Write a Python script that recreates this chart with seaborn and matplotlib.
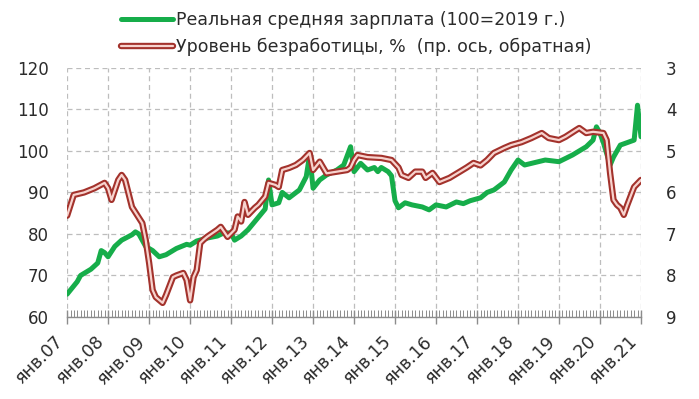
import matplotlib
matplotlib.use("Agg")
import matplotlib.pyplot as plt
import matplotlib.dates as mdates
import matplotlib.patheffects as pe
import pandas as pd
import seaborn as sns

# real average wage, 100 = 2019
wage_dates = ["2007-01", "2007-04", "2007-05", "2007-08", "2007-10", "2007-11", "2007-12",
              "2008-01", "2008-03", "2008-05", "2008-08", "2008-09", "2008-10", "2008-12",
              "2009-02", "2009-04", "2009-06", "2009-09", "2009-12",
              "2010-01", "2010-03", "2010-06", "2010-09", "2010-11",
              "2011-01", "2011-02", "2011-04", "2011-06", "2011-09", "2011-11", "2011-12",
              "2012-01", "2012-03", "2012-04", "2012-06", "2012-09", "2012-11", "2012-12",
              "2013-01", "2013-03", "2013-05", "2013-08", "2013-10", "2013-12",
              "2014-01", "2014-03", "2014-05", "2014-07", "2014-08", "2014-09", "2014-11", "2014-12",
              "2015-01", "2015-02", "2015-04", "2015-06", "2015-09", "2015-11",
              "2016-01", "2016-04", "2016-07", "2016-09", "2016-11",
              "2017-02", "2017-04", "2017-06", "2017-09", "2017-11",
              "2018-01", "2018-03", "2018-06", "2018-09",
              "2019-01", "2019-05", "2019-09", "2019-11", "2019-12",
              "2020-01", "2020-02", "2020-04", "2020-05", "2020-07", "2020-09", "2020-11", "2020-12",
              "2021-01"]
wage = [65.5, 68.5, 70.0, 71.5, 73.0, 76.0, 75.5,
        74.5, 77.0, 78.5, 79.8, 80.5, 80.0, 77.0,
        76.0, 74.5, 75.0, 76.5, 77.5,
        77.3, 78.3, 79.0, 79.5, 80.3,
        80.2, 78.5, 79.5, 81.0, 84.0, 86.0, 93.0,
        87.0, 87.5, 90.0, 88.7, 90.6, 93.8, 99.0,
        91.0, 93.0, 94.2, 95.4, 96.6, 101.0,
        95.0, 97.0, 95.4, 96.0, 95.0, 96.0, 95.0, 94.0,
        88.0, 86.3, 87.5, 87.0, 86.5, 85.8,
        87.0, 86.5, 87.7, 87.3, 88.0,
        88.7, 90.0, 90.6, 92.5, 95.4,
        97.8, 96.6, 97.2, 97.8,
        97.4, 99.0, 101.0, 102.6, 105.8,
        104.3, 102.0, 96.6, 98.5, 101.4, 102.0, 102.6, 111.0,
        103.4]

# unemployment rate, %
unemp_dates = ["2007-01", "2007-03", "2007-06", "2007-09", "2007-12",
               "2008-01", "2008-02", "2008-04", "2008-05", "2008-06", "2008-08", "2008-11", "2008-12",
               "2009-01", "2009-02", "2009-03", "2009-05", "2009-06", "2009-08", "2009-09", "2009-11", "2009-12",
               "2010-01", "2010-02", "2010-03", "2010-04", "2010-05", "2010-06", "2010-09", "2010-10", "2010-12",
               "2011-02", "2011-03", "2011-04", "2011-05", "2011-06", "2011-08", "2011-09", "2011-11", "2011-12",
               "2012-02", "2012-03", "2012-04", "2012-06", "2012-08", "2012-10", "2012-12",
               "2013-01", "2013-03", "2013-05", "2013-08", "2013-11", "2013-12",
               "2014-01", "2014-02", "2014-05", "2014-09", "2014-12",
               "2015-02", "2015-03", "2015-05", "2015-07", "2015-09", "2015-10", "2015-12",
               "2016-02", "2016-05", "2016-08", "2016-10", "2016-12",
               "2017-02", "2017-04", "2017-06", "2017-09", "2017-11",
               "2018-02", "2018-05", "2018-08", "2018-10",
               "2019-01", "2019-03", "2019-06", "2019-07", "2019-09", "2019-11",
               "2020-02", "2020-03", "2020-04", "2020-05", "2020-06", "2020-07", "2020-08", "2020-09", "2020-11",
               "2021-01"]
unemp = [6.56, 6.06, 6.00, 5.90, 5.77,
         5.90, 6.18, 5.70, 5.58, 5.70, 6.35, 6.74, 7.14,
         7.70, 8.35, 8.52, 8.66, 8.47, 8.04, 8.00, 7.94, 8.11,
         8.60, 8.04, 7.87, 7.22, 7.14, 7.07, 6.90, 6.83, 7.07,
         6.90, 6.58, 6.70, 6.23, 6.54, 6.37, 6.30, 6.10, 5.77,
         5.82, 5.87, 5.46, 5.41, 5.34, 5.22, 5.05,
         5.46, 5.26, 5.54, 5.50, 5.46, 5.40,
         5.22, 5.10, 5.15, 5.17, 5.22,
         5.40, 5.58, 5.65, 5.50, 5.50, 5.65, 5.53,
         5.75, 5.65, 5.50, 5.40, 5.29,
         5.35, 5.22, 5.05, 4.93, 4.86,
         4.79, 4.69, 4.57, 4.69,
         4.74, 4.66, 4.50, 4.45, 4.57, 4.54,
         4.57, 4.74, 5.54, 6.18, 6.30, 6.37, 6.54, 6.30, 5.87,
         5.70]

wage_label = "Реальная средняя зарплата (100=2019 г.)"
unemp_label = "Уровень безработицы, %  (пр. ось, обратная)"

sns.set_style("white")
plt.rcParams["font.family"] = ["DejaVu Sans"]

GREEN = "#16ad4a"
DARKRED = "#a3322c"
PINK = "#f7d3ce"
TXT = "#2b2b2b"

fig = plt.figure(figsize=(6.99, 3.99), dpi=100)
ax = fig.add_axes([0.096, 0.2055, 0.821, 0.6245])
ax2 = ax.twinx()

wd = pd.to_datetime(wage_dates)
ud = pd.to_datetime(unemp_dates)

sns.lineplot(x=wd, y=wage, ax=ax, color=GREEN, lw=3.6, label=wage_label, legend=False, zorder=3)
sns.lineplot(x=ud, y=unemp, ax=ax2, color=PINK, lw=1.6, label=unemp_label, legend=False,
             path_effects=[pe.Stroke(linewidth=4.6, foreground=DARKRED), pe.Normal()])

ax.set_ylim(60, 120)
ax2.set_ylim(9, 3)
ax.set_xlim(pd.Timestamp("2007-01-01"), pd.Timestamp("2021-01-01"))
ax.set_yticks(range(60, 121, 10))
ax2.set_yticks(range(3, 10))

ax.xaxis.set_major_locator(mdates.YearLocator())
ax.xaxis.set_minor_locator(mdates.MonthLocator())
ax.xaxis.set_major_formatter(mdates.DateFormatter("янв.%y"))

for a in (ax, ax2):
    for s in a.spines.values():
        s.set_visible(False)
ax.spines["bottom"].set_visible(True)
ax.spines["bottom"].set_color("#8c8c8c")
ax.spines["bottom"].set_linewidth(1.0)

ax.grid(True, which="major", ls=(0, (4, 3)), color="#bdbdbd", lw=0.9)
ax.set_axisbelow(True)

ax.tick_params(axis="y", length=0, pad=13, labelsize=12, labelcolor=TXT)
ax2.tick_params(axis="y", length=0, pad=18, labelsize=12, labelcolor=TXT)
ax.tick_params(axis="x", which="major", bottom=True, direction="inout", length=10, width=1,
               color="#8c8c8c", labelsize=12.5, labelcolor=TXT, pad=6)
ax.tick_params(axis="x", which="minor", bottom=True, direction="in", length=5, width=0.7,
               color="#8c8c8c")
for lab in ax.get_xticklabels():
    lab.set_rotation(45)
    lab.set_ha("right")
    lab.set_va("top")

ax.set_xlabel("")
ax.set_ylabel("")
ax2.set_ylabel("")

h1, l1 = ax.get_legend_handles_labels()
h2, l2 = ax2.get_legend_handles_labels()
fig.legend(h1 + h2, l1 + l2, loc="upper left", bbox_to_anchor=(0.163, 0.99), frameon=False,
           fontsize=12.5, handlelength=3.0, handletextpad=0.15, labelspacing=0.5, labelcolor=TXT,
           borderaxespad=0)

fig.savefig("out.png", dpi=100)
